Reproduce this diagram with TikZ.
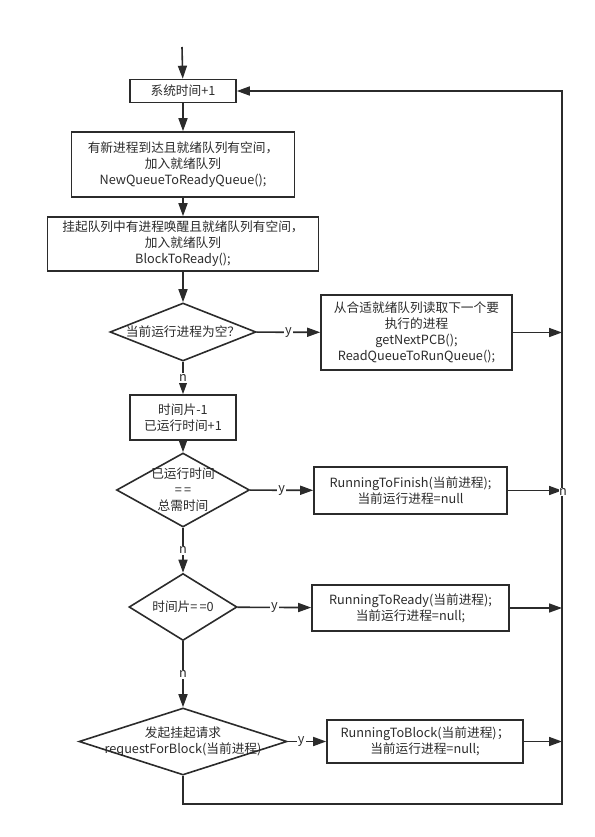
\documentclass[tikz,border=0pt]{standalone}
\usepackage{fontspec}
\setmainfont{Noto Sans CJK SC}
\usepackage{tikz}
\usetikzlibrary{shapes.geometric, arrows.meta}
\definecolor{ink}{HTML}{2B2B2B}
\tikzstyle{proc} = [rectangle, draw=ink, line width=1.6pt, inner sep=0pt, align=center, text=ink]
\tikzstyle{decision} = [diamond, draw=ink, line width=1.6pt, inner sep=0pt]
\tikzstyle{arrow} = [draw=ink, line width=1.6pt, -{Triangle[length=13pt,width=9pt]}]
\tikzstyle{line} = [draw=ink, line width=1.6pt]
\tikzstyle{yn} = [fill=white, inner sep=1pt, text=ink]

\begin{document}
\begin{tikzpicture}[x=1pt, y=-1pt, font=\fontsize{12.7pt}{16pt}\selectfont]
        \useasboundingbox (0,0) rectangle (594,837);

        % Main column
        \coordinate (start) at (182,47);
        \node[proc, minimum width=106, minimum height=23] (sys_time) at (183,91) {系统时间+1};
        \node[proc, minimum width=223, minimum height=65] (new_queue) at (183,164.5)
            {有新进程到达且就绪队列有空间，\\加入就绪队列\\NewQueueToReadyQueue();};
        \node[proc, minimum width=271, minimum height=54] (block_ready) at (183,244)
            {挂起队列中有进程唤醒且就绪队列有空间，\\加入就绪队列\\BlockToReady();};
        \node[decision, minimum width=146, minimum height=58,
            label={[text=ink]center:当前运行进程为空？}] (run_empty) at (183,332) {};
        \node[proc, minimum width=106, minimum height=45] (time_slice) at (183,417.5)
            {时间片-1\\已运行时间+1};
        \node[decision, minimum width=133, minimum height=74,
            label={[text=ink, align=center]center:已运行时间\\{=}\,{=}\\总需时间}] (run_done) at (183,490) {};
        \node[decision, minimum width=108, minimum height=67,
            label={[text=ink]center:时间片{=}\,{=}0}] (slice_zero) at (183,607) {};
        \node[decision, minimum width=208, minimum height=67,
            label={[text=ink, align=center]center:发起挂起请求\\requestForBlock(当前进程)}] (req_block) at (183,741.5) {};

        % Right column
        \node[proc, minimum width=191, minimum height=75] (next_pcb) at (416.5,332.5)
            {从合适就绪队列读取下一个要\\执行的进程\\getNextPCB();\\ReadQueueToRunQueue();};
        \node[proc, minimum width=193, minimum height=47] (to_finish) at (410.5,490.5)
            {RunningToFinish(当前进程);\\当前运行进程=null};
        \node[proc, minimum width=197, minimum height=46] (to_ready) at (410.5,608)
            {RunningToReady(当前进程);\\当前运行进程=null;};
        \node[proc, minimum width=196, minimum height=43] (to_block) at (425,741.5)
            {RunningToBlock(当前进程)；\\当前运行进程=null;};

        % Loop back line
        \coordinate (loop_br) at (562,804);
        \coordinate (loop_tr) at (562,91);

        % Arrows down
        \draw[arrow] (start) -- (sys_time);
        \draw[arrow] (sys_time) -- (new_queue);
        \draw[arrow] (new_queue) -- (block_ready);
        \draw[arrow] (block_ready) -- (run_empty);
        \draw[arrow] (run_empty) -- node[yn] {n} (time_slice);
        \draw[arrow] (time_slice) -- (run_done);
        \draw[arrow] (run_done) -- node[yn] {n} (slice_zero);
        \draw[arrow] (slice_zero) -- node[yn] {n} (req_block);

        % Yes branches
        \draw[arrow] (run_empty) -- node[yn] {y} (next_pcb);
        \draw[arrow] (run_done) -- node[yn] {y} (to_finish);
        \draw[arrow] (slice_zero) -- node[yn] {y} (to_ready);
        \draw[arrow] (req_block) -- node[yn, pos=0.35] {y} (to_block);

        % Into the loop line
        \draw[arrow] (req_block.south) |- (loop_br) -- (loop_tr) -- (sys_time.east);
        \draw[arrow] (next_pcb.east) -- (next_pcb.east -| loop_tr);
        \draw[arrow] (to_finish.east) -- (to_finish.east -| loop_tr);
        \draw[arrow] (to_ready.east) -- (to_ready.east -| loop_tr);
        \draw[arrow] (to_block.east) -- (to_block.east -| loop_tr);
        \node[yn, inner sep=0.5pt] (loop_n) at (563,492) {n};

    \end{tikzpicture}
\end{document}
